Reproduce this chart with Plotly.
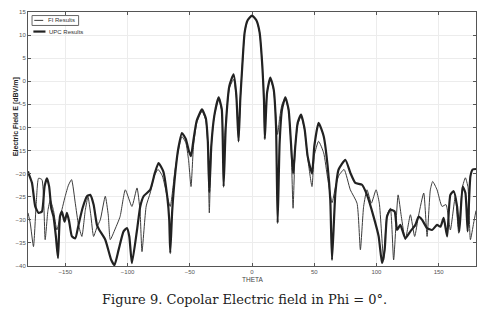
import plotly.graph_objects as go

# UPC Results (thick curve)
upc_theta = [-180, -179.6, -176.8, -174.2, -171.5, -168.8, -166.7, -164.8, -163, -161.3, -159.5, -157.6,
             -155.9, -154.3, -152.7, -150.6, -148.7, -146.9, -144.7, -142, -139.4, -136.2, -132.6, -130,
             -127.3, -124.6, -122.7, -117.9, -113.1, -110.5, -107.2, -103.2, -100.5, -98.6, -96.5, -92.4,
             -89.8, -87.1, -81.8, -78, -75.1, -71.3, -68.1, -66.5, -65.7, -64.1, -61.7, -59.2, -56.3,
             -53.2, -50.8, -49, -47.2, -44.4, -40.2, -37.1, -35.5, -34.3, -32.7, -30.3, -26.8, -24.3,
             -22.8, -21.1, -18.2, -14.8, -12.6, -10.8, -9.4, -7.8, -5.9, -3.5, 0, 3.5, 6.1, 8.3, 9.6,
             10.3, 12.1, 14.7, 17.4, 19.3, 20.6, 22.2, 24.1, 26.8, 29.4, 31.3, 33, 34.8, 36.7, 39.4,
             42.3, 44.7, 48.2, 50.1, 53.5, 57.6, 60.8, 62.9, 64.3, 67, 69.6, 75, 79, 83, 88.4, 92.4,
             97.7, 101.8, 104.5, 106.6, 108.5, 111.2, 114.6, 116.6, 119.2, 123.2, 127.3, 131.3, 133.9,
             136.7, 140.7, 144.7, 148.7, 151.4, 154, 156.8, 159.4, 162.1, 164.8, 166.6, 169.3, 171.5,
             173.3, 175.5, 177.3, 180]
upc_field = [-19.5, -19.9, -22, -27.1, -28.5, -28.2, -22.8, -21, -22.8, -27.5, -29.3, -33.6,
             -38.3, -29.3, -28.2, -30.4, -28.5, -30.4, -33.6, -34, -31.1, -27.5, -24.9, -24.6,
             -26.7, -31.1, -32.2, -34.3, -38.7, -39.8, -36.5, -32.5, -31.8, -33.6, -39.4, -32.2,
             -27.1, -24.9, -23.5, -19.8, -17.7, -19.5, -25, -30, -37.2, -28, -20, -14.5, -11.2,
             -12.5, -15, -16.2, -13, -8.5, -6.1, -8, -13, -24, -14, -7.5, -3.5, -6,
             -22.8, -10, -1, 1.5, -3, -13, -3.9, 3.3, 10.6, 13.2, 14.2, 13.2, 10.6, 3.3, -3.9,
             -12.5, -2.5, 0.8, -1.7, -9.7, -30.7, -13.3, -6.1, -3.5, -6.1, -13.3, -20, -14, -9, -7.2,
             -10.4, -16.2, -20, -14, -9, -11.9, -18.4, -25.7, -38.7, -24.2, -19.1, -17, -19.8, -22, -22.4, -24.6,
             -29.3, -33.6, -39.4, -36.5, -29.3, -27.8, -28.2, -32.2, -31.1, -34, -32.5, -31.1, -29.3,
             -30, -31.8, -32.2, -31.1, -31.5, -29.6, -33.6, -24.6, -23.8, -27.1, -32.5, -22.8, -24.2,
             -32.5, -20.6, -19.1, -19]

# FI Results (thin curve)
fi_theta = [-180, -178.2, -175.6, -173.5, -171.5, -168.8, -166.2, -164, -162.1, -159.5, -156.8, -154.1,
            -150.1, -147.5, -145, -142, -139.5, -136.7, -134, -131.8, -129.5, -127.3, -124.5, -121.9,
            -117.9, -115.5, -113.9, -110, -106, -101.8, -96.5, -92.4, -90, -88.4, -85, -81.8, -78.5,
            -75.5, -72, -68.5, -65.7, -62, -59.2, -56.3, -53.2, -51, -49, -47, -44.4, -40.2, -37.1,
            -35.5, -34.3, -32.7, -30.3, -26.8, -24.3, -22.8, -21.1, -18.2, -14.8, -12.6, -10.8, -9.4,
            -7.8, -5.9, -3.5, 0, 3.5, 6.1, 8.3, 9.6, 10.3, 12.1, 14.7, 17.4, 19.3, 20.6, 22.2, 24.1,
            26.8, 29.4, 31.3, 33, 34.8, 36.7, 39.4, 42.3, 44.7, 48.2, 50.1, 53.5, 57.6, 60.8, 64.3,
            67, 69.6, 74, 79, 84.4, 87.1, 89.7, 92.4, 95.9, 99.7, 102.3, 105.8, 108.5, 111.2, 113.8,
            117.4, 120, 123.2, 127.3, 130.7, 133.9, 138, 140.7, 143.3, 145.2, 148.7, 152.7, 155.9,
            159.4, 163.4, 166.1, 169, 171.5, 173.6, 175.5, 178.1, 180]
fi_field = [-28.5, -30.7, -35.8, -27, -21, -21.3, -34.3, -28, -25.7, -28, -32.2, -29.3,
            -24.9, -22.5, -21.3, -26.4, -31, -33.6, -28, -25, -29, -33.6, -31.5, -30,
            -24.9, -29, -34.3, -32, -29.3, -23.5, -27.1, -23.1, -28, -36.9, -27, -24.2, -20.5,
            -19.1, -20.5, -24.5, -27.1, -19.5, -15, -12, -13.3, -17, -22.8, -14, -9, -6.5, -8.5,
            -14, -28.5, -14, -7.5, -3.8, -6.5, -16, -9, -1.5, 0.4, -3.5, -12.5, -3.9,
            3.3, 10.6, 13.2, 14.2, 13.2, 10.6, 3.3, -3.9, -11, -2.5, 0.6, -2, -8, -11.5, -8, -5,
            -3.7, -6.5, -13.3, -27.5, -14, -9.5, -7.5, -10.6, -16.5, -22.8, -16, -13, -15.5, -21, -26.3,
            -23, -20.5, -19.1, -23.5, -26.4, -36.5, -27.1, -23.5, -26.4, -23.5, -26.4, -38.7, -29, -27.5, -38.7,
            -24.6, -29.3, -34.3, -28.9, -33.6, -29, -24.2, -33.6, -23.5, -21.7, -23.5, -27.1, -26.7,
            -32.2, -24.9, -32.9, -23, -20.9, -23, -34.3, -30.7, -28]

series_names = ["FI Results", "UPC Results"]
x_ticks = [-150, -100, -50, 0, 50, 100, 150]
y_ticks = [15, 10, 5, 0, -5, -10, -15, -20, -25, -30, -35, -40]

THIN = dict(color="#3c3c3c", width=1)
THICK = dict(color="#222222", width=2.2)

fig = go.Figure()
fig.add_trace(go.Scatter(x=fi_theta, y=fi_field, mode="lines", name=series_names[0],
                         line=dict(**THIN, shape="spline", smoothing=0.5)))
fig.add_trace(go.Scatter(x=upc_theta, y=upc_field, mode="lines", name=series_names[1],
                         line=dict(**THICK, shape="spline", smoothing=0.5)))

axis_common = dict(showline=True, linecolor="#555", linewidth=1, mirror="ticks", ticks="inside",
                   ticklen=3, tickcolor="#555", showgrid=True, gridcolor="#ececec", gridwidth=1,
                   zeroline=False, automargin=False,
                   tickfont=dict(family="Liberation Sans", size=6, color="#555"))

# compact legend, as in the reference
shapes = [
    dict(type="rect", xref="paper", yref="paper", x0=0.009, x1=0.113, y0=0.947, y1=0.986,
         line=dict(color="#666", width=1), fillcolor="white", layer="above"),
    dict(type="line", xref="paper", yref="paper", x0=0.014, x1=0.034, y0=0.967, y1=0.967,
         line=THIN, layer="above"),
    dict(type="line", xref="paper", yref="paper", x0=0.012, x1=0.039, y0=0.923, y1=0.923,
         line=THICK, layer="above"),
]

fig.update_layout(
    width=480, height=306,
    margin=dict(l=20, r=12, t=4, b=48),
    paper_bgcolor="white", plot_bgcolor="white",
    showlegend=False,
    shapes=shapes,
    xaxis=dict(range=[-180, 180], tickvals=x_ticks, **axis_common),
    yaxis=dict(range=[-40, 15], tickvals=y_ticks, **axis_common),
    annotations=[
        dict(text=series_names[0], xref="paper", yref="paper", x=0.040, y=0.967, xanchor="left",
             yanchor="middle", showarrow=False, font=dict(family="Liberation Sans", size=6, color="#333")),
        dict(text=series_names[1], xref="paper", yref="paper", x=0.042, y=0.923, xanchor="left",
             yanchor="middle", showarrow=False, font=dict(family="Liberation Sans", size=6, color="#333")),
        dict(text="THETA", xref="paper", yref="paper", x=0.5, y=-0.055, showarrow=False,
             yanchor="middle", font=dict(family="Liberation Sans", size=6.5, color="#444")),
        dict(text="<b>Electric Field E [dBV/m]</b>", xref="paper", yref="paper", x=-0.04, y=0.586,
             textangle=-90, showarrow=False, font=dict(family="Liberation Sans", size=7, color="#222")),
        dict(text="Figure 9. Copolar Electric field in Phi = 0°.", xref="paper", yref="paper",
             x=0.483, y=-0.13, yanchor="middle", showarrow=False,
             font=dict(family="DejaVu Serif", size=13, color="#222")),
    ],
)

fig.write_html("out.html")
